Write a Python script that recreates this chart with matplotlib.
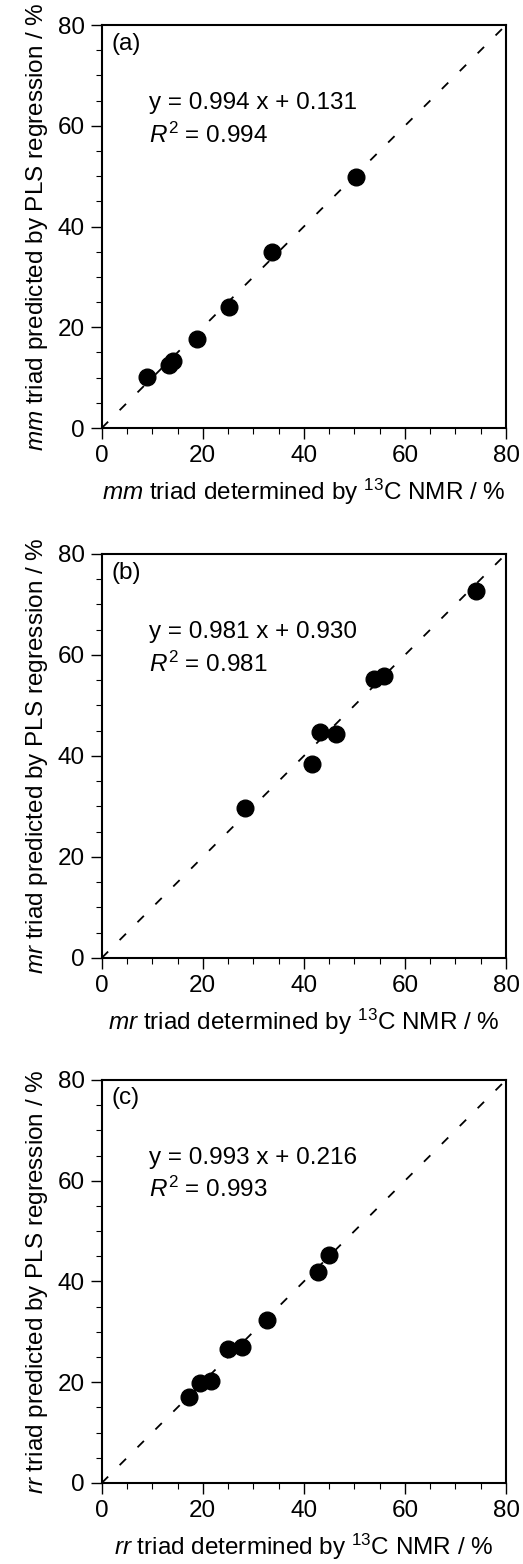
import numpy as np
import matplotlib
matplotlib.use("Agg")
import matplotlib.pyplot as plt

plt.rcParams['font.family'] = ['Liberation Sans', 'DejaVu Sans']
plt.rcParams['mathtext.fontset'] = 'custom'
plt.rcParams['mathtext.rm'] = 'Liberation Sans'
plt.rcParams['mathtext.it'] = 'Liberation Sans:italic'

# panel data: 13C NMR value (x) vs PLS prediction (y), in %
mm_nmr = [50.3, 33.7, 25.1, 18.8, 14.2, 13.3, 8.9]
mm_pls = [49.9, 35.0, 24.0, 17.6, 13.3, 12.5, 10.1]

mr_nmr = [74.1, 55.8, 53.8, 43.2, 46.4, 41.7, 28.4]
mr_pls = [72.7, 55.8, 55.2, 44.8, 44.4, 38.5, 29.6]

rr_nmr = [45.0, 42.8, 32.8, 27.8, 24.9, 21.6, 19.5, 17.3]
rr_pls = [45.2, 41.8, 32.3, 26.9, 26.5, 20.3, 19.9, 17.1]

names = ['mm', 'mr', 'rr']
tags = ['(a)', '(b)', '(c)']
slopes = ['0.994', '0.981', '0.993']
intercepts = ['0.131', '0.930', '0.216']
r2 = ['0.994', '0.981', '0.993']

xs = [mm_nmr, mr_nmr, rr_nmr]
ys = [mm_pls, mr_pls, rr_pls]

fig = plt.figure(figsize=(5.23, 15.64), dpi=100)
# axes boxes [left, bottom, width, height] in figure fractions
boxes = [[0.1945, 0.7263, 0.773, 0.2577],
         [0.1945, 0.3875, 0.773, 0.2583],
         [0.1945, 0.0518, 0.773, 0.2577]]

fs = 17.5
for i in range(3):
    ax = fig.add_axes(boxes[i])
    # 1:1 reference line
    ax.plot([0, 80], [0, 80], color='black', lw=1.3, ls=(0, (5, 9)))
    ax.plot(xs[i], ys[i], 'o', color='black', ms=12, mec='black')

    ax.set_xlim(0, 80)
    ax.set_ylim(0, 80)
    ax.set_xticks([0, 20, 40, 60, 80])
    ax.set_yticks([0, 20, 40, 60, 80])
    ax.set_xticks(np.arange(0, 81, 5), minor=True)
    ax.set_yticks(np.arange(0, 81, 5), minor=True)
    ax.tick_params(which='major', direction='out', length=8, width=1, labelsize=fs, pad=4)
    ax.tick_params(which='minor', direction='out', length=4, width=0.8)
    for s in ax.spines.values():
        s.set_linewidth(1.5)

    ax.text(2.0, 78.5, tags[i], fontsize=fs, va='top', ha='left')
    ax.text(9.4, 63.3, 'y = ' + slopes[i] + ' x + ' + intercepts[i], fontsize=fs, va='baseline')
    ax.text(9.4, 56.7, r'$\it{R}^{2}$ = ' + r2[i], fontsize=fs, va='baseline')

    ax.set_xlabel(r'$\it{' + names[i] + r'}$ triad determined by $^{13}$C NMR / %', fontsize=fs, labelpad=7)
    ax.set_ylabel(r'$\it{' + names[i] + r'}$ triad predicted by PLS regression / %', fontsize=fs, labelpad=6)

fig.savefig('out.png', dpi=100)
